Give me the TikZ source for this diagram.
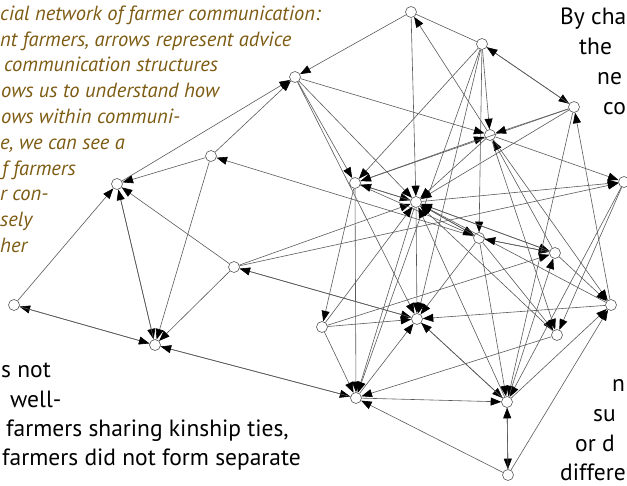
\documentclass[tikz,border=0pt]{standalone}
\usepackage{fontspec}
\setmainfont{PT Sans}
\usetikzlibrary{arrows.meta}
\definecolor{capbrown}{HTML}{7D5B12}
\definecolor{edgegray}{HTML}{5A5A5A}
\begin{document}
\begin{tikzpicture}[x=1pt,y=-1pt,
  farmer/.style={circle,draw=edgegray,fill=white,line width=0.6pt,minimum size=11pt,inner sep=0pt},
  tie/.style={draw=edgegray,line width=0.6pt,-{Triangle[length=10.5pt,width=8pt,black]}},
  plaintie/.style={draw=edgegray,line width=0.6pt},
  captxt/.style={anchor=base west,inner sep=0pt,text=capbrown,font=\fontsize{20.5}{24}\selectfont\itshape},
  bodytxt/.style={anchor=base west,inner sep=0pt,text=black,font=\fontsize{23.5}{28}\selectfont}]
\useasboundingbox (0,0) rectangle (627,486);
\clip (0,0) rectangle (627,486);

% caption text (upper left)
\node[captxt] (c1) at (0,21) {cial network of farmer communication:};
\node[captxt] (c2) at (0,47) {nt farmers, arrows represent advice};
\node[captxt] (c3) at (4,72) {communication structures};
\node[captxt] (c4) at (1,98) {ows us to understand how};
\node[captxt] (c5) at (1,124) {ows within communi-};
\node[captxt] (c6) at (0,150) {e, we can see a};
\node[captxt] (c7) at (2,176) {f farmers};
\node[captxt] (c8) at (0,201) {r con-};
\node[captxt] (c9) at (0,227) {sely};
\node[captxt] (c10) at (0,253) {her};

% body text (right column)
\node[bodytxt] (r1) at (560,25) {By cha};
\node[bodytxt] (r2) at (579,55) {the};
\node[bodytxt] (r3) at (597,85) {ne};
\node[bodytxt] (r4) at (603,115) {co};
\node[bodytxt] (r5) at (612,392) {n};
\node[bodytxt] (r6) at (593,421) {su};
\node[bodytxt] (r7) at (575,451) {or d};
\node[bodytxt] (r8) at (560,480) {differe};

% body text (lower left)
\node[bodytxt] (l1) at (1,378) {s not};
\node[bodytxt] (l2) at (10,408) {well-};
\node[bodytxt] (l3) at (6,436) {farmers sharing kinship ties,};
\node[bodytxt] (l4) at (2,465) {farmers did not form separate};

% farmers
\node[farmer] (A) at (411,12) {};
\node[farmer] (B) at (482,44) {};
\node[farmer] (C) at (574,107) {};
\node[farmer] (D) at (295,77) {};
\node[farmer] (E) at (211,156) {};
\node[farmer] (F) at (117,184) {};
\node[farmer] (G) at (355,183) {};
\node[farmer] (H) at (416,202) {};
\node[farmer] (I) at (490,135) {};
\node[farmer] (J) at (624,182) {};
\node[farmer] (K) at (479,238) {};
\node[farmer] (L) at (555,253) {};
\node[farmer] (M) at (234,267) {};
\node[farmer] (N) at (14,305) {};
\node[farmer] (O) at (322,327) {};
\node[farmer] (P) at (417,319) {};
\node[farmer] (Q) at (611,305) {};
\node[farmer] (R) at (557,335) {};
\node[farmer] (S) at (155,345) {};
\node[farmer] (T) at (356,398) {};
\node[farmer] (U) at (507,402) {};
\node[farmer] (V) at (508,475) {};

% advice ties
\draw[plaintie] (A) -- (B);
\foreach \s/\t in {A/D,A/H,I/A,B/C,B/I,B/K,B/G,B/P,B/T,
  F/D,E/D,E/F,D/G,D/H,D/I,D/P,
  N/F,S/N,F/S,M/F,E/S,M/S,K/E,
  M/H,M/P,M/J,G/O,G/T,G/H,G/I,C/G,
  H/K,G/K,K/L,H/L,L/H,
  H/J,I/J,Q/C,J/R,J/U,C/I,C/H,C/U,
  O/P,O/T,O/H,O/L,
  S/T,V/T,R/T,T/U,T/P,H/T,H/P,
  Q/P,P/U,K/P,U/Q,V/Q,U/V,
  K/R,U/L,L/I,I/Q,I/R,K/U,L/Q,I/H,U/H,R/H,Q/H}
  \draw[tie] (\s) -- (\t);
% reciprocated ties
\foreach \s/\t in {C/B,N/S,S/F,P/M,H/G,K/H,L/K,T/S,U/P,V/U}
  \draw[tie] (\s) -- (\t);
\end{tikzpicture}
\end{document}
